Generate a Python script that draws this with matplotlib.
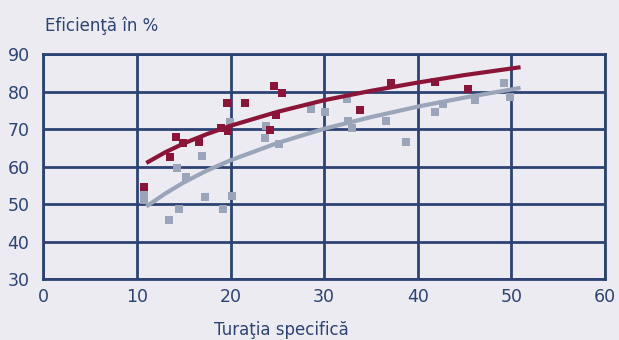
import numpy as np
import matplotlib.pyplot as plt

# measured points, red series
red_x = [10.8, 13.5, 14.2, 14.9, 16.6, 19.0, 19.6, 19.7, 21.5, 24.2, 24.6, 24.9, 25.5, 33.8, 37.1, 41.9, 45.4]
red_y = [54.6, 62.7, 68.0, 66.4, 66.6, 70.4, 77.0, 69.4, 77.0, 69.7, 81.5, 73.8, 79.7, 75.2, 82.2, 82.6, 80.6]

# measured points, grey series
grey_x = [10.8, 10.8, 13.4, 14.3, 14.5, 15.2, 16.9, 17.3, 19.2, 19.9, 20.2, 23.7, 23.8, 25.2, 28.6,
          30.1, 32.5, 32.6, 33.0, 36.6, 38.8, 41.9, 42.7, 46.1, 49.2, 49.9]
grey_y = [53.2, 51.2, 45.9, 59.7, 48.8, 57.3, 62.8, 51.8, 48.8, 71.8, 52.3, 67.7, 70.8, 66.0, 75.4,
          74.6, 77.9, 72.3, 70.3, 72.3, 66.7, 74.6, 76.7, 77.8, 82.4, 78.5]

# trend curves
trend_x = [11, 13, 15, 17.5, 20, 25, 30, 35, 40, 45, 51]
red_trend = [61.0, 63.8, 66.2, 68.7, 70.9, 74.6, 77.7, 80.2, 82.4, 84.4, 86.5]
grey_trend = [49.4, 52.8, 55.8, 59.0, 61.7, 66.3, 70.1, 73.2, 76.0, 78.4, 81.0]

bg = '#ebebf1'
navy = '#2c4373'
red = '#8b1538'
grey = '#9aa5ba'

fig = plt.figure(figsize=(6.19, 3.40), dpi=100, facecolor=bg)
ax = fig.add_axes([0.0701, 0.1785, 0.9069, 0.6625], facecolor=bg)

ax.plot(grey_x, grey_y, 's', color=grey, ms=5.6, mew=0, zorder=3)
ax.plot(red_x, red_y, 's', color=red, ms=5.6, mew=0, zorder=4)
ax.plot(trend_x, grey_trend, '-', color=grey, lw=3.0, solid_capstyle='butt', zorder=5)
ax.plot(trend_x, red_trend, '-', color=red, lw=3.0, solid_capstyle='butt', zorder=6)

ax.set_xlim(0, 60)
ax.set_ylim(30, 90)
ax.set_xticks(range(0, 61, 10))
ax.set_yticks(range(30, 91, 10))
ax.grid(True, color=navy, lw=2.0, zorder=1)
ax.set_axisbelow(True)
for s in ax.spines.values():
    s.set_color(navy)
    s.set_linewidth(2.0)
ax.tick_params(length=0, colors=navy, labelsize=12.5, pad=6)
ax.tick_params(axis='y', pad=10)

fig.text(0.072, 0.925, 'Eficienţă în %', color=navy, fontsize=12, va='center', ha='left')
fig.text(0.455, 0.03, 'Turaţia specifică', color=navy, fontsize=12, va='center', ha='center')

fig.savefig('out.png', dpi=100, facecolor=bg)
